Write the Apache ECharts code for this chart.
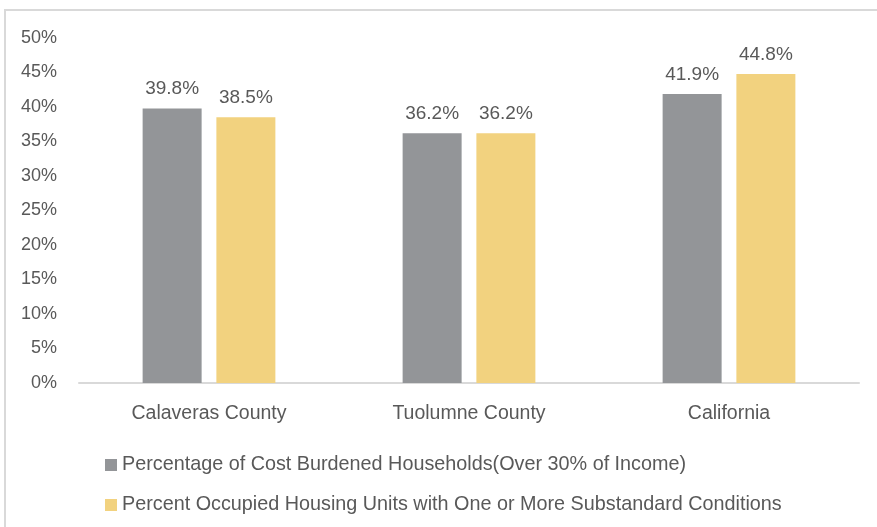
<!DOCTYPE html>
<html>
<head>
<meta charset="utf-8">
<script src="https://cdn.jsdelivr.net/npm/echarts@6/dist/echarts.min.js"></script>
<style>
html,body{margin:0;padding:0;background:#fff;}
#chart{width:877px;height:527px;}
</style>
</head>
<body>
<div id="chart"></div>
<script>
var categories = ['Calaveras County', 'Tuolumne County', 'California'];
var seriesNames = [
  'Percentage of Cost Burdened Households(Over 30% of Income)',
  'Percent Occupied Housing Units with One or More Substandard Conditions'
];
var costBurdened = [39.8, 36.2, 41.9];
var substandard = [38.5, 36.2, 44.8];
var yTicks = [0, 5, 10, 15, 20, 25, 30, 35, 40, 45, 50];

var FONT = 'Liberation Sans';
var TXT = '#595959';
var chart = echarts.init(document.getElementById('chart'), null, {renderer: 'canvas'});
chart.setOption({
  animation: false,
  backgroundColor: '#fff',
  textStyle: {fontFamily: FONT},
  graphic: [{
    type: 'rect',
    shape: {x: 5, y: 10, width: 1000, height: 1000},
    style: {fill: 'none', stroke: '#d9d9d9', lineWidth: 2},
    silent: true, z: -1
  }],
  grid: {left: 79, right: 18, top: 38, bottom: 144, containLabel: false},
  xAxis: {
    type: 'category',
    data: categories,
    axisLine: {lineStyle: {color: '#d9d9d9', width: 2}},
    axisTick: {show: false},
    axisLabel: {color: TXT, fontSize: 19.5, margin: 21, fontFamily: FONT}
  },
  yAxis: {
    type: 'value',
    min: yTicks[0],
    max: yTicks[yTicks.length - 1],
    interval: 5,
    splitLine: {show: false},
    axisLine: {show: false},
    axisTick: {show: false},
    axisLabel: {color: TXT, fontSize: 18, margin: 22, fontFamily: FONT,
      formatter: function (v) { return v + '%'; }}
  },
  legend: {
    orient: 'vertical',
    left: 100,
    top: 450,
    itemGap: 20,
    itemWidth: 12,
    itemHeight: 12,
    icon: 'rect',
    textStyle: {color: TXT, fontSize: 19.8, fontFamily: FONT},
    data: seriesNames
  },
  series: [
    {
      name: seriesNames[0], type: 'bar', data: costBurdened,
      barWidth: 59, barGap: '25%',
      itemStyle: {color: '#939598'},
      label: {show: true, position: 'top', distance: 10, color: TXT, fontSize: 19,
        fontFamily: FONT, formatter: function (p) { return p.value.toFixed(1) + '%'; }}
    },
    {
      name: seriesNames[1], type: 'bar', data: substandard,
      barWidth: 59, barGap: '25%',
      itemStyle: {color: '#f2d27f'},
      label: {show: true, position: 'top', distance: 10, color: TXT, fontSize: 19,
        fontFamily: FONT, formatter: function (p) { return p.value.toFixed(1) + '%'; }}
    }
  ]
});
</script>
</body>
</html>
